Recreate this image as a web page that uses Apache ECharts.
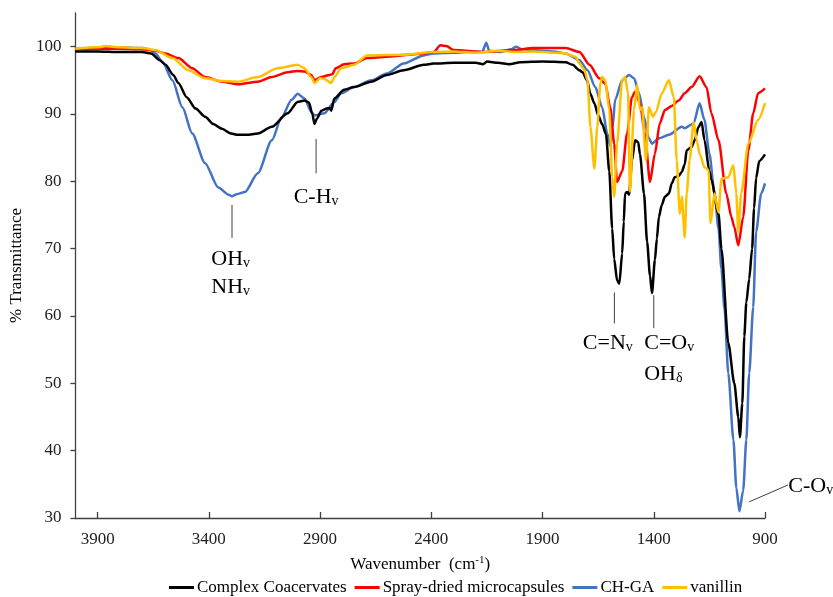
<!DOCTYPE html>
<html><head><meta charset="utf-8">
<script src="https://cdn.jsdelivr.net/npm/echarts@6/dist/echarts.min.js"></script>
<style>html,body{margin:0;padding:0;background:#fff}#c{width:833px;height:597px}</style>
</head><body><div id="c"></div>
<script>
const seriesNames = ['Complex Coacervates','Spray-dried microcapsules','CH-GA','vanillin'];
const xTicks = [900,1400,1900,2400,2900,3400,3900];
const yTicks = [30,40,50,60,70,80,90,100];

const ccWn = [4000,3900,3800,3700,3660,3620,3595,3560,3537,3500,3460,3417,3380,3341,3300,3269,3230,3180,3117,3046,3001,2970,2950,2935,2925,2915,2894,2870,2858,2850,2836,2792,2747,2671,2600,2524,2434,2390,2300,2200,2167,2150,2100,2050,2000,1900,1796,1765,1734,1720,1700,1685,1667,1650,1632,1615,1600,1587,1578,1565,1555,1542,1535,1529,1520,1511,1498,1484,1470,1462,1444,1430,1417,1408,1395,1386,1377,1364,1350,1332,1319,1306,1288,1274,1261,1252,1230,1216,1200,1185,1172,1150,1141,1109,1096,1065,1038,1020,1013,1002,993,984,971,958,949,940,926,900];
const ccT = [99.3,99.3,99.2,99.2,99.0,98.0,97.3,95.8,94.6,92.5,90.8,89.6,88.5,87.8,87.1,86.9,86.9,87.1,88.1,90.1,91.8,92.0,91.7,90.0,88.5,89.3,90.5,90.8,90.9,90.5,92.3,93.6,94.0,94.8,95.8,96.5,97.3,97.5,97.6,97.6,97.4,97.8,97.6,97.4,97.7,97.8,97.7,97.3,96.5,96.2,95.0,93.0,91.6,89.8,88.5,87.0,81.5,73.0,68.5,65.3,64.8,69.3,74.0,78.2,78.4,78.0,83.1,86.1,85.8,84.0,78.2,71.0,66.0,63.4,68.3,71.5,74.7,76.5,77.7,78.2,79.7,80.6,80.8,81.4,82.5,84.6,85.1,86.1,88.0,88.8,86.1,81.5,80.2,75.2,70.0,56.0,50.0,45.0,42.0,47.0,57.0,62.0,65.5,70.0,76.0,80.5,83.0,84.0];

const sdWn = [4000,3900,3800,3700,3640,3595,3537,3475,3417,3341,3269,3180,3117,3046,3001,2970,2940,2925,2894,2858,2845,2830,2792,2747,2689,2600,2434,2390,2359,2332,2301,2167,2020,1944,1796,1734,1689,1645,1618,1596,1578,1565,1542,1520,1498,1484,1462,1440,1417,1395,1373,1350,1319,1288,1261,1230,1194,1163,1141,1109,1074,1051,1038,1020,998,975,953,931,900];
const sdT = [99.6,99.7,99.7,99.6,99.4,99.0,98.3,96.8,95.5,94.8,94.4,94.8,95.5,96.2,96.4,96.3,95.8,95.0,95.5,95.8,95.9,96.8,97.4,97.5,98.3,98.5,99.0,99.2,100.2,100.1,99.5,99.2,99.5,99.8,99.8,99.2,97.3,95.3,94.5,91.0,85.6,79.9,81.5,87.1,92.5,93.3,91.6,87.1,79.9,84.1,88.6,90.6,91.2,92.0,93.1,94.0,95.6,94.0,90.1,86.1,78.2,74.7,73.2,70.5,74.7,84.6,90.1,93.1,93.8];

const chWn = [4000,3900,3800,3700,3662,3640,3608,3564,3519,3475,3417,3358,3310,3296,3275,3238,3180,3117,3073,3028,3001,2970,2939,2925,2881,2836,2805,2747,2671,2600,2524,2434,2390,2300,2242,2170,2153,2140,2091,2040,2020,1990,1944,1850,1796,1734,1698,1663,1632,1609,1596,1585,1574,1542,1511,1489,1466,1444,1422,1408,1377,1332,1274,1261,1221,1194,1172,1150,1127,1109,1096,1082,1065,1042,1029,1015,998,984,971,953,940,917,900];
const chT = [99.7,99.8,99.9,99.8,99.5,99.0,97.7,95.0,91.0,87.1,82.7,79.1,78.0,77.8,78.1,78.4,81.2,86.1,89.5,92.1,93.0,92.3,90.3,89.8,90.1,91.8,93.1,94.0,95.0,96.0,97.5,98.7,99.0,99.1,99.2,99.3,100.6,99.4,99.2,99.6,100.0,99.6,99.5,99.3,99.0,98.0,96.5,94.0,91.0,87.1,85.3,88.0,92.1,95.0,95.8,95.3,93.1,89.5,86.4,85.6,86.4,86.9,88.1,87.9,88.6,91.6,89.1,84.1,78.2,73.0,67.0,61.0,51.5,41.6,34.5,31.0,34.1,41.6,51.5,61.3,72.5,78.2,79.7];

const vnWn = [4000,3900,3863,3800,3700,3640,3564,3492,3417,3341,3269,3180,3091,3001,2970,2940,2925,2900,2881,2850,2836,2805,2747,2689,2524,2390,2300,2200,2100,2020,1944,1850,1796,1752,1734,1711,1698,1685,1667,1654,1640,1632,1618,1600,1587,1578,1565,1542,1529,1516,1507,1489,1475,1462,1453,1435,1422,1404,1390,1364,1332,1310,1297,1283,1274,1261,1252,1239,1221,1207,1194,1172,1154,1145,1127,1109,1096,1065,1042,1029,1020,1007,975,931,900];
const vnT = [99.7,99.9,100.1,99.9,99.8,99.5,98.3,96.5,95.3,94.9,94.8,95.5,96.8,97.3,96.8,95.5,94.6,95.3,95.2,94.6,95.5,96.8,97.3,98.7,98.8,99.2,99.3,99.1,99.4,99.2,99.3,99.1,99.0,98.5,97.5,96.5,95.0,88.1,81.9,88.1,94.6,95.5,95.0,90.6,80.6,77.7,85.6,95.0,95.5,93.1,78.5,90.6,94.3,90.6,91.0,83.1,91.0,89.6,90.3,93.1,95.0,92.5,83.1,75.2,77.7,71.7,78.2,83.1,88.8,86.1,84.1,82.1,81.7,73.8,78.2,75.4,80.4,80.6,82.4,78.2,72.5,78.2,85.6,89.1,91.6];

// annotation leader lines [wn1, T1, wn2, T2] and labels (left edge wn, centre T)
const annoLines = [[3296,76.5,3296,71.6],[2918,86.3,2918,81.2],[1577,63.5,1577,58.9],[1400,63.1,1400,58.2],[971,32.4,797,34.9]];
const annoLabels = [
  {wn:3389, t:68.7, main:'OH', sub:'v'},
  {wn:3389, t:64.6, main:'NH', sub:'v'},
  {wn:3019, t:77.9, main:'C-H', sub:'v'},
  {wn:1719, t:56.3, main:'C=N', sub:'v'},
  {wn:1443, t:56.3, main:'C=O', sub:'v'},
  {wn:1443, t:51.7, main:'OH', sub:'δ'},
  {wn:795, t:35.0, main:'C-O', sub:'v'}
];

const FONT = '"Liberation Serif","Times New Roman",serif';
const colors = ['#000000','#FF0000','#4472C4','#FFC000'];
const wns = [ccWn, sdWn, chWn, vnWn];
const ts = [ccT, sdT, chT, vnT];

const chart = echarts.init(document.getElementById('c'));
const series = seriesNames.map((n,i)=>({
  name:n, type:'line', data: wns[i].map((w,k)=>[w, ts[i][k]]),
  symbol:'none', showSymbol:false, smooth:0.25, smoothMonotone:'x',
  lineStyle:{color:colors[i], width:2.5}, itemStyle:{color:colors[i]},
  z: [4,3,2,5][i]
}));

chart.setOption({
  animation:false,
  backgroundColor:'#fff',
  grid:{left:69, right:68, top:13, bottom:79},
  legend:{
    top:574, left:164, icon:'rect', itemWidth:25, itemHeight:3, itemGap:8,
    textStyle:{fontFamily:FONT, fontSize:17, color:'#000', padding:[0,0,0,-2]},
    data: seriesNames
  },
  xAxis:{
    type:'value', inverse:true, min:900, max:4000, interval:500,
    name:'Wavenumber  (cm{sup|-1})', nameLocation:'middle', nameGap:37,
    nameTextStyle:{fontFamily:FONT, fontSize:17, color:'#000',
      rich:{sup:{fontFamily:FONT, fontSize:11, color:'#000', verticalAlign:'top', padding:[0,0,8,0]}}},
    axisLine:{show:true, lineStyle:{color:'#404040', width:1.3}},
    axisTick:{show:true, inside:true, length:6, customValues:xTicks, lineStyle:{color:'#404040', width:1.3}},
    axisLabel:{customValues:xTicks, margin:13, fontFamily:FONT, fontSize:17, color:'#222', formatter:v=>String(v)},
    splitLine:{show:false}
  },
  yAxis:{
    type:'value', min:30, max:105, interval:10,
    name:'% Transmittance', nameLocation:'middle', nameGap:39, nameRotate:90,
    nameTextStyle:{fontFamily:FONT, fontSize:17, color:'#000'},
    axisLine:{show:true, lineStyle:{color:'#404040', width:1.3}},
    axisTick:{show:true, inside:false, length:5, customValues:yTicks, lineStyle:{color:'#404040', width:1.3}},
    axisLabel:{customValues:yTicks, margin:14, fontFamily:FONT, fontSize:17, color:'#222', formatter:v=>String(v)},
    splitLine:{show:false}
  },
  series: series
});

function px(w,t){ return chart.convertToPixel({xAxisIndex:0, yAxisIndex:0}, [w,t]); }
const graphics = [];
annoLines.forEach(l=>{
  const a = px(l[0],l[1]), b = px(l[2],l[3]);
  graphics.push({type:'line', shape:{x1:a[0],y1:a[1],x2:b[0],y2:b[1]}, style:{stroke:'#404040', lineWidth:1}, z:10});
});
annoLabels.forEach(a=>{
  const p = px(a.wn, a.t);
  graphics.push({type:'text', x:p[0], y:p[1], z:10, style:{
    text:'{m|'+a.main+'}{s|'+a.sub+'}', align:'left', verticalAlign:'middle',
    rich:{
      m:{fontFamily:FONT, fontSize:22, lineHeight:26, fill:'#000', verticalAlign:'bottom'},
      s:{fontFamily:FONT, fontSize:14, lineHeight:12, fill:'#000', verticalAlign:'bottom'}
    }
  }});
});
chart.setOption({graphic:graphics});
</script>
</body></html>
